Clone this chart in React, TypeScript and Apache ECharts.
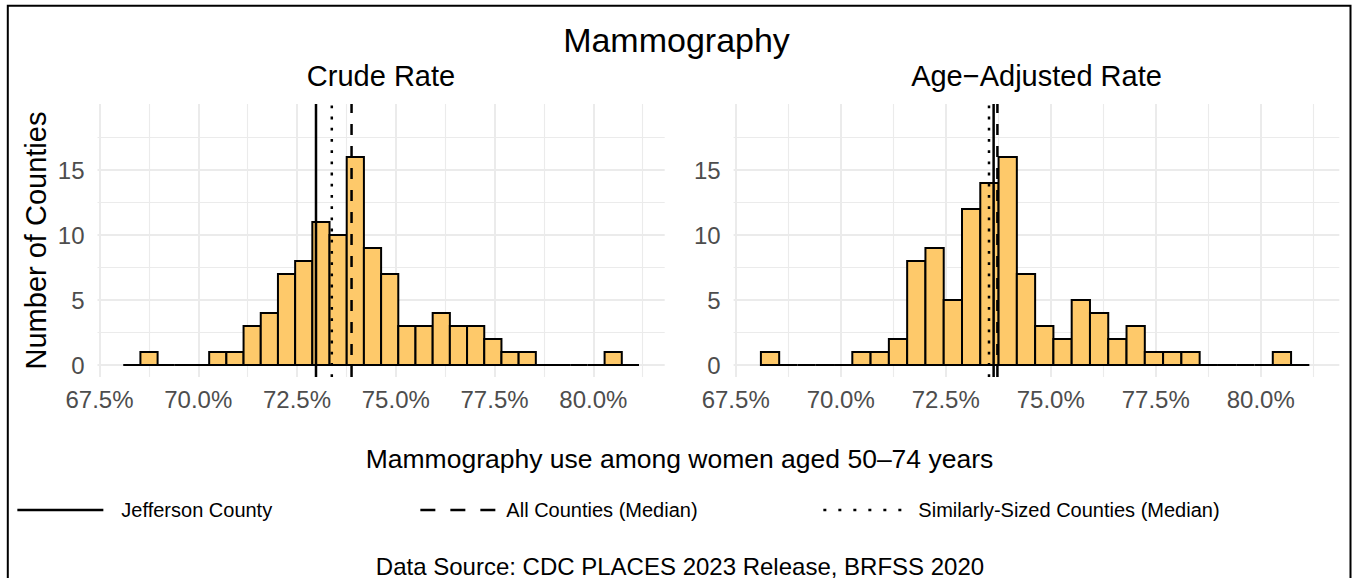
import React, { useEffect, useRef } from "react";
import * as echarts from "echarts";

// ---- data ----
const binStart = 68.1;
const binWidth = 0.4352;
const crudeCounts = [0, 1, 0, 0, 0, 1, 1, 3, 4, 7, 8, 11, 10, 16, 9, 7, 3, 3, 4, 3, 3, 2, 1, 1, 0, 0, 0, 0, 1, 0];
const adjustedCounts = [1, 0, 0, 0, 0, 1, 1, 2, 8, 9, 5, 12, 14, 16, 7, 3, 2, 5, 4, 2, 3, 1, 1, 1, 0, 0, 0, 0, 1, 0];
const refNames = ["Jefferson County", "All Counties (Median)", "Similarly-Sized Counties (Median)"];
const crudeRefValues = [72.98, 73.88, 73.38];
const adjustedRefValues = [73.64, 73.73, 73.53];
const xMajorTicks = [67.5, 70, 72.5, 75, 77.5, 80];
const xMinorTicks = [68.75, 71.25, 73.75, 76.25, 78.75, 81.25];
const yMajorTicks = [0, 5, 10, 15];
const yMinorTicks = [2.5, 7.5, 12.5, 17.5];

const FONT = "'Liberation Sans', Arial, Helvetica, sans-serif";
const Y_MIN = -0.923;
const Y_MAX = 20.077;
const GRID_COLOR = "#EBEBEB";
const FILL = "#FEC96A";
const lineTypes: any[] = ["solid", [11, 11], [2.8, 8.4]];

export default function App() {
  const ref = useRef<HTMLDivElement>(null);
  useEffect(() => {
    const chart = echarts.init(ref.current!, null, { renderer: "svg" });

    const panels = [
      { counts: crudeCounts, refs: crudeRefValues, xmin: 67.449, xmax: 81.807 },
      { counts: adjustedCounts, refs: adjustedRefValues, xmin: 67.45, xmax: 81.869 },
    ];

    const grids = [
      { left: 97.5, top: 104, width: 567.2, height: 273 },
      { left: 733.6, top: 104, width: 605.7, height: 273 },
    ];

    const xAxes: any[] = [];
    const yAxes: any[] = [];
    panels.forEach((p, i) => {
      xAxes.push({
        type: "value", gridIndex: i, min: p.xmin, max: p.xmax,
        axisLine: { show: false },
        axisTick: { show: false, customValues: xMajorTicks },
        axisLabel: {
          customValues: xMajorTicks, fontSize: 24, color: "#4D4D4D", fontFamily: FONT, margin: 10,
          formatter: (v: number) => v.toFixed(1) + "%",
        },
        splitLine: { show: true, lineStyle: { color: GRID_COLOR, width: 2 } },
      });
      yAxes.push({
        type: "value", gridIndex: i, min: Y_MIN, max: Y_MAX,
        axisLine: { show: false },
        axisTick: { show: false, customValues: yMajorTicks },
        axisLabel: { customValues: yMajorTicks, fontSize: 24, color: "#4D4D4D", fontFamily: FONT, margin: 13 },
        splitLine: { show: true, lineStyle: { color: GRID_COLOR, width: 2 } },
        ...(i === 0
          ? {
              name: "Number of Counties", nameLocation: "middle", nameRotate: 90, nameGap: 47,
              nameTextStyle: { fontSize: 29, color: "#000", fontFamily: FONT },
            }
          : {}),
      });
    });
    panels.forEach((p, i) => {
      xAxes.push({
        type: "value", gridIndex: i, min: p.xmin, max: p.xmax,
        axisLine: { show: false },
        axisTick: { show: false, customValues: xMinorTicks },
        axisLabel: { show: false },
        splitLine: { show: true, lineStyle: { color: GRID_COLOR, width: 1.1 } },
      });
      yAxes.push({
        type: "value", gridIndex: i, min: Y_MIN, max: Y_MAX,
        axisLine: { show: false },
        axisTick: { show: false, customValues: yMinorTicks },
        axisLabel: { show: false },
        splitLine: { show: true, lineStyle: { color: GRID_COLOR, width: 1.1 } },
      });
    });

    const series: any[] = [];
    panels.forEach((p, i) => {
      series.push({
        type: "custom",
        xAxisIndex: i,
        yAxisIndex: i,
        silent: true,
        data: p.counts.map((c, k) => [binStart + k * binWidth, binStart + (k + 1) * binWidth, c]),
        renderItem: (params: any, api: any) => {
          const x0 = api.value(0);
          const x1 = api.value(1);
          const c = api.value(2);
          const p0 = api.coord([x0, 0]);
          const p1 = api.coord([x1, c]);
          if (c === 0) {
            return {
              type: "line",
              shape: { x1: p0[0], y1: p0[1], x2: p1[0], y2: p0[1] },
              style: { stroke: "#000", lineWidth: 2 },
            };
          }
          return {
            type: "rect",
            shape: { x: p0[0], y: p1[1], width: p1[0] - p0[0], height: p0[1] - p1[1] },
            style: { fill: FILL, stroke: "#000", lineWidth: 2 },
          };
        },
        z: 2,
      });
      refNames.forEach((name, j) => {
        series.push({
          type: "line",
          name,
          xAxisIndex: i,
          yAxisIndex: i,
          symbol: "none",
          silent: true,
          data: [[p.refs[j], Y_MIN], [p.refs[j], Y_MAX]],
          lineStyle: { color: "#000", width: 2.5, type: lineTypes[j], cap: "butt" },
          itemStyle: { color: "#000" },
          z: 3,
        });
      });
    });

    const legendBase = (name: string, left: number, width: number, type: any, pad: number) => ({
      data: [name],
      left,
      top: 500,
      itemWidth: width,
      itemHeight: 20,
      selectedMode: false,
      padding: 0,
      itemStyle: { opacity: 0, borderWidth: 0 },
      lineStyle: { type, width: 2.7, color: "#000", cap: "butt" },
      textStyle: { fontSize: 20, color: "#000", fontFamily: FONT, padding: [0, 0, 0, pad] },
    });

    chart.setOption({
      animation: false,
      backgroundColor: "#fff",
      title: [
        { text: "Mammography", left: "center", top: 23.3, textStyle: { fontSize: 34, fontWeight: "normal", color: "#000", fontFamily: FONT } },
        { text: "Crude Rate", left: 381, top: 61.5, textAlign: "center", textStyle: { fontSize: 29, fontWeight: "normal", color: "#000", fontFamily: FONT } },
        { text: "Age\u2212Adjusted Rate", left: 1036.5, top: 61.5, textAlign: "center", textStyle: { fontSize: 29, fontWeight: "normal", color: "#000", fontFamily: FONT } },
        { text: "Mammography use among women aged 50\u201374 years", left: 679.5, top: 445.6, textAlign: "center", textStyle: { fontSize: 26.5, fontWeight: "normal", color: "#000", fontFamily: FONT } },
        { text: "Data Source: CDC PLACES 2023 Release, BRFSS 2020", left: 680, top: 556, textAlign: "center", textStyle: { fontSize: 24, lineHeight: 20, fontWeight: "normal", color: "#000", fontFamily: FONT } },
      ].map((t: any) => ({ ...t, padding: 0 })),
      legend: [
        legendBase(refNames[0], 16, 86, "solid", 13),
        legendBase(refNames[1], 419, 75, [15, 15], 6),
        legendBase(refNames[2], 822, 78, [3, 12], 12),
      ],
      grid: grids,
      xAxis: xAxes,
      yAxis: yAxes,
      series,
      graphic: [
        {
          type: "rect",
          shape: { x: 7.8, y: 5.8, width: 1342.7, height: 700 },
          style: { fill: "none", stroke: "#000", lineWidth: 2 },
          silent: true,
          z: 100,
        },
      ],
    });
    return () => chart.dispose();
  }, []);
  return <div ref={ref} style={{ position: "fixed", left: 0, top: 0, width: 1353, height: 578 }} />;
}
